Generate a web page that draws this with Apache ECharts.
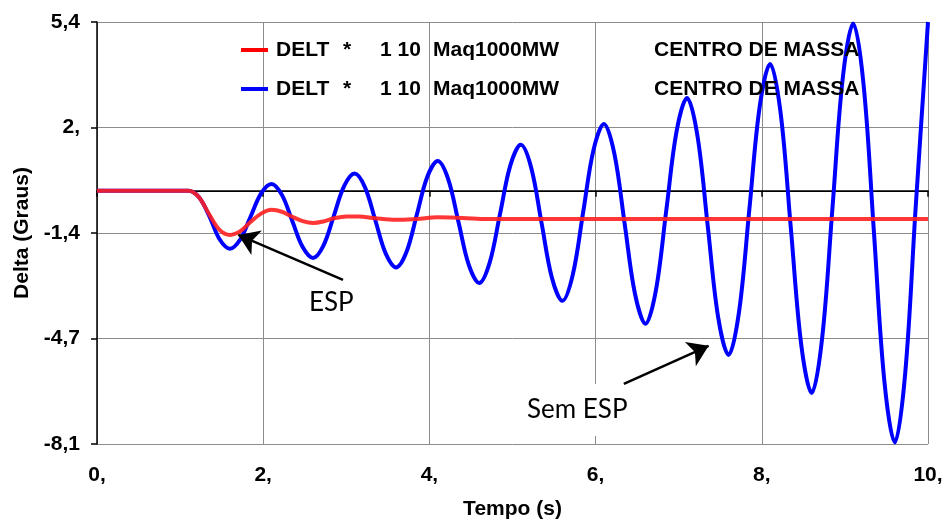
<!DOCTYPE html>
<html>
<head>
<meta charset="utf-8">
<script src="https://cdn.jsdelivr.net/npm/echarts@6/dist/echarts.min.js"></script>
<style>
html,body{margin:0;padding:0;background:#fff;}
#c{width:946px;height:522px;}
</style>
</head>
<body>
<div id="c"></div>
<script>
// ---- data ----
const xTickLabels = ['0,', '2,', '4,', '6,', '8,', '10,'];
const yTickValues = [-8.1, -4.725, -1.35, 2.025, 5.4];
const yTickLabels = ['-8,1', '-4,7', '-1,4', '2,', '5,4'];

const legendParts = ['DELT', '*', '1 10', 'Maq1000MW', 'CENTRO DE MASSA'];
const seriesNames = ['Com ESP', 'Sem ESP'];

// Red curve (with ESP)
const tComEsp = [0, 1.0, 1.1, 1.225, 1.35, 1.475, 1.6, 1.725, 1.85, 1.975, 2.1, 2.225, 2.35, 2.475, 2.6, 2.725, 2.85, 3.0, 3.15, 3.35, 3.6, 3.85, 4.1, 4.4, 4.7, 5.0, 6.0, 7.0, 8.0, 9.0, 10.0];
const vComEsp = [0, 0, 0, -0.2, -0.75, -1.25, -1.41, -1.29, -0.99, -0.73, -0.61, -0.67, -0.83, -0.97, -1.03, -0.98, -0.88, -0.82, -0.82, -0.88, -0.93, -0.9, -0.85, -0.87, -0.9, -0.9, -0.9, -0.9, -0.9, -0.9, -0.9];

// Blue curve (without ESP)
const tSemEsp = [0, 1.0, 1.1, 1.225, 1.35, 1.475, 1.6,
  1.725, 1.85, 1.975, 2.1, 2.225, 2.35, 2.475, 2.6,
  2.725, 2.85, 2.975, 3.1, 3.225, 3.35, 3.475, 3.6,
  3.725, 3.85, 3.975, 4.1, 4.225, 4.35, 4.475, 4.6,
  4.725, 4.85, 4.975, 5.1, 5.225, 5.35, 5.475, 5.6,
  5.725, 5.85, 5.975, 6.1, 6.225, 6.35, 6.475, 6.6,
  6.725, 6.85, 6.975, 7.1, 7.225, 7.35, 7.475, 7.6,
  7.725, 7.85, 7.975, 8.1, 8.225, 8.35, 8.475, 8.6,
  8.725, 8.85, 8.975, 9.1, 9.225, 9.35, 9.475, 9.6,
  9.725, 9.85, 10.0];
const vSemEsp = [0, 0, 0, -0.2, -0.8, -1.55, -1.85,
  -1.55, -0.815, -0.08, 0.22, -0.13, -0.965, -1.80, -2.15,
  -1.755, -0.80, 0.155, 0.55, 0.11, -0.95, -2.01, -2.45,
  -1.95, -0.75, 0.45, 0.95, 0.38, -1.0, -2.38, -2.95,
  -2.30, -0.74, 0.82, 1.47, 0.74, -1.03, -2.79, -3.52,
  -2.69, -0.69, 1.31, 2.14, 1.20, -1.06, -3.31, -4.25,
  -3.19, -0.64, 1.91, 2.97, 1.77, -1.14, -4.05, -5.25,
  -3.89, -0.60, 2.70, 4.06, 2.52, -1.21, -4.93, -6.47,
  -4.74, -0.56, 3.62, 5.35, 3.39, -1.35, -6.09, -8.05,
  -5.86, -0.6, 5.4];

// Annotations (data coordinates)
const annotEsp = {text: 'ESP', at: [2.82, -3.59], arrowFrom: [2.96, -2.85], arrowTo: [1.70, -1.41]};
const annotSemEsp = {text: 'Sem ESP', at: [5.78, -7.01], arrowFrom: [6.34, -6.18], arrowTo: [7.36, -4.96]};

// ---- chart ----
const zip = (a, b) => a.map((x, i) => [x, b[i]]);
const chart = echarts.init(document.getElementById('c'), null, {renderer: 'canvas'});
const F = 'Liberation Sans, Arial, sans-serif';
const FA = 'Lato, Open Sans, sans-serif';

const richLegend = {
  s: {width: 3},
  a: {width: 67, fontFamily: F, fontWeight: 'bold', fontSize: 21},
  b: {width: 37, fontFamily: F, fontWeight: 'bold', fontSize: 21},
  c: {width: 53, fontFamily: F, fontWeight: 'bold', fontSize: 21},
  d: {width: 221, fontFamily: F, fontWeight: 'bold', fontSize: 21},
  e: {fontFamily: F, fontWeight: 'bold', fontSize: 21}
};

const option = {
  animation: false,
  backgroundColor: '#fff',
  grid: {left: 97, right: 18, top: 22, bottom: 78, containLabel: false, outerBoundsMode: 'none'},
  legend: {
    orient: 'vertical',
    left: 236, top: 33,
    itemWidth: 27, itemHeight: 4,
    itemGap: 15,
    icon: 'rect',
    data: seriesNames,
    formatter: () => '{s|}{a|' + legendParts[0] + '}{b|' + legendParts[1] + '}{c|' + legendParts[2] + '}{d|' + legendParts[3] + '}{e|' + legendParts[4] + '}',
    textStyle: {color: '#000', fontSize: 21, fontWeight: 'bold', fontFamily: F, lineHeight: 24, rich: richLegend},
    selectedMode: false
  },
  xAxis: {
    type: 'value', min: 0, max: 10, interval: 2,
    name: 'Tempo (s)', nameLocation: 'middle', nameGap: 55,
    nameTextStyle: {color: '#000', fontSize: 21, fontWeight: 'bold', fontFamily: F},
    axisLine: {show: true, lineStyle: {color: '#000', width: 1.5}},
    axisTick: {show: true, length: 6, inside: false, lineStyle: {color: '#000', width: 1.5}},
    axisLabel: {color: '#000', fontSize: 21, fontWeight: 'bold', fontFamily: F, margin: 21,
      formatter: (v) => xTickLabels[Math.round(v / 2)]},
    splitLine: {show: true, lineStyle: {color: '#8c8c8c', width: 1}}
  },
  yAxis: {
    type: 'value', min: -8.1, max: 5.4,
    name: 'Delta (Graus)', nameLocation: 'middle', nameGap: 62, nameRotate: 90,
    nameTextStyle: {color: '#000', fontSize: 21, fontWeight: 'bold', fontFamily: F},
    axisLine: {show: true, onZero: false, lineStyle: {color: '#000', width: 1.5}},
    axisTick: {show: true, length: 6, inside: false, customValues: yTickValues, lineStyle: {color: '#000', width: 1.5}},
    axisLabel: {color: '#000', fontSize: 21, fontWeight: 'bold', fontFamily: F, margin: 17,
      customValues: yTickValues,
      formatter: (v) => {
        let best = 0;
        yTickValues.forEach((t, i) => { if (Math.abs(t - v) < Math.abs(yTickValues[best] - v)) best = i; });
        return yTickLabels[best];
      }},
    splitLine: {show: true, lineStyle: {color: '#8c8c8c', width: 1}}
  },
  series: [
    {
      name: seriesNames[1], type: 'line', data: zip(tSemEsp, vSemEsp),
      smooth: 0.35, showSymbol: false, symbol: 'none', clip: true,
      lineStyle: {color: '#0000ff', width: 4}, itemStyle: {color: '#0000ff'},
      z: 2,
      markLine: {
        silent: true, symbol: 'none', z: 1,
        label: {show: false},
        lineStyle: {color: '#000', width: 1, type: 'solid'},
        data: [{yAxis: 0}]
      },
      markPoint: {
        silent: true, z: 1,
        symbolSize: 0,
        data: [
          {coord: annotEsp.at, value: annotEsp.text,
            label: {show: true, position: 'inside', formatter: annotEsp.text, color: '#000', fontSize: 26, fontFamily: FA}},
          {coord: annotSemEsp.at, value: annotSemEsp.text,
            label: {show: true, position: 'inside', formatter: annotSemEsp.text, color: '#000', fontSize: 26, fontFamily: FA,
              backgroundColor: '#fff', padding: [14, 6, 12, 6]}}
        ]
      }
    },
    {
      name: seriesNames[0], type: 'line', data: zip(tComEsp, vComEsp),
      smooth: 0.35, showSymbol: false, symbol: 'none',
      lineStyle: {color: '#ff2020', width: 4, opacity: 0.9}, itemStyle: {color: '#ff0000'},
      z: 3,
      markLine: {
        silent: true, z: 10,
        symbol: ['none', 'arrow'], symbolSize: [20, 20],
        label: {show: false},
        lineStyle: {color: '#000', width: 2.5, type: 'solid'},
        data: [
          [{coord: annotEsp.arrowFrom}, {coord: annotEsp.arrowTo}],
          [{coord: annotSemEsp.arrowFrom}, {coord: annotSemEsp.arrowTo}]
        ]
      }
    }
  ]
};
chart.setOption(option);
</script>
</body>
</html>
